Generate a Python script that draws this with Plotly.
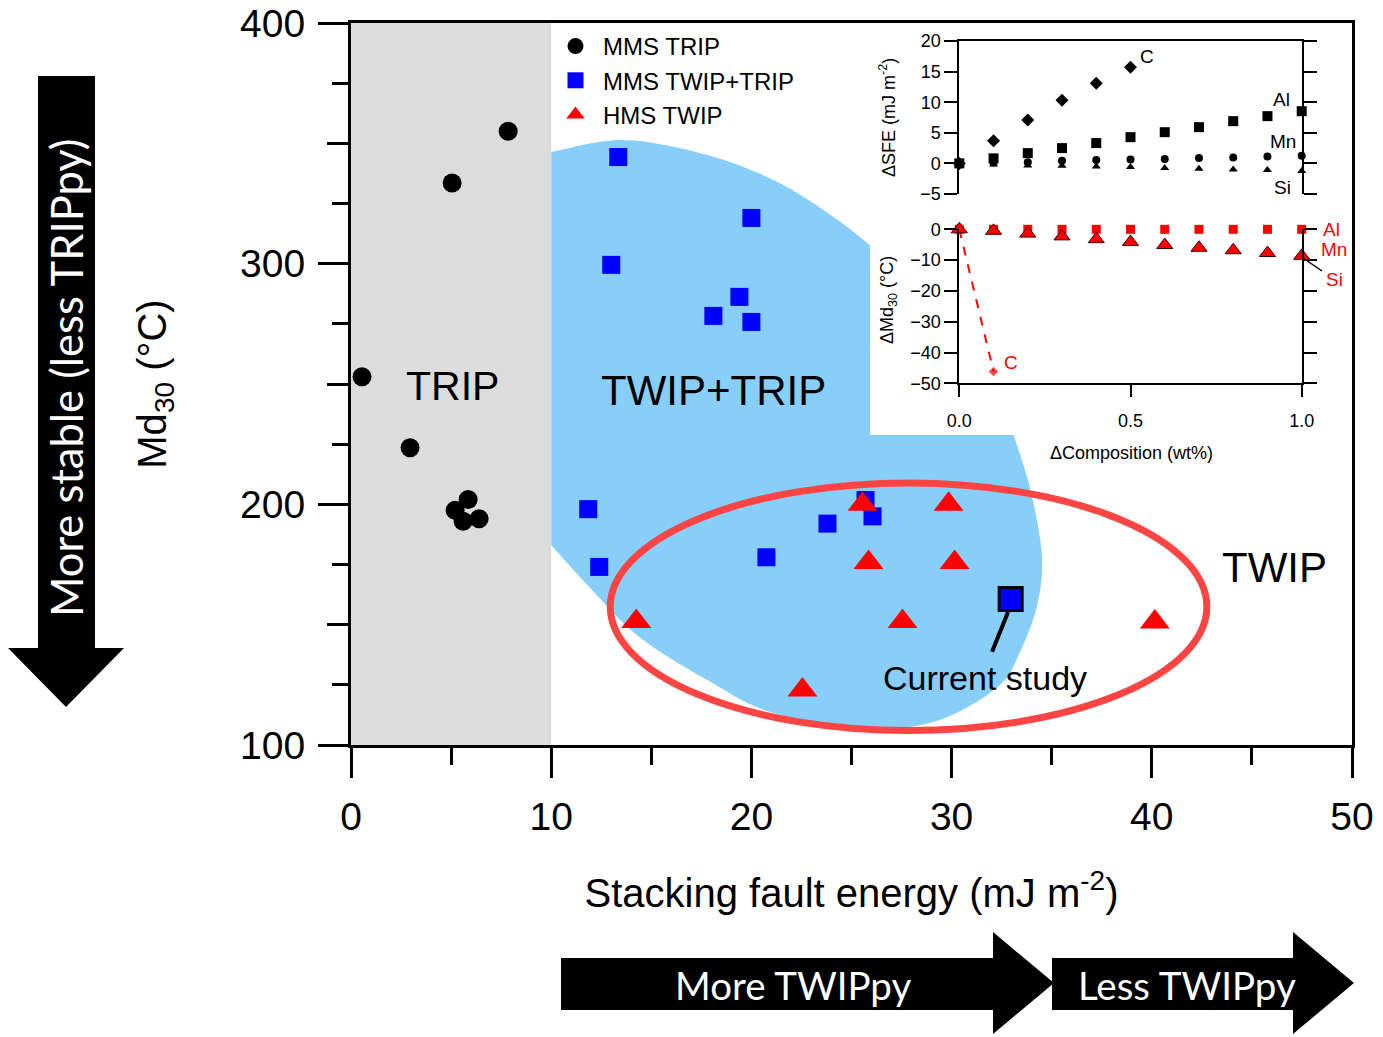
import plotly.graph_objects as go

# ---------------- main chart data ----------------
mms_trip_sfe = [0.55, 5.05, 7.85, 2.95, 5.85, 5.2, 5.6, 6.4]
mms_trip_md30 = [253.0, 333.5, 355.0, 223.5, 202.0, 197.5, 193.0, 194.0]

mms_twip_trip_sfe = [13.35, 20.0, 13.0, 19.4, 18.1, 20.0, 11.85, 12.4, 25.7, 26.05, 23.8, 20.75]
mms_twip_trip_md30 = [344.3, 319.0, 299.5, 286.2, 278.3, 275.8, 198.0, 174.0, 201.8, 195.0, 192.0, 178.0]

hms_twip_sfe = [25.55, 29.85, 25.85, 30.15, 14.25, 27.55, 40.15, 22.55]
hms_twip_md30 = [200.0, 200.0, 175.8, 175.8, 151.3, 151.3, 151.1, 122.9]

current_sfe = [32.95]
current_md30 = [160.7]

legend_names = ["MMS TRIP", "MMS TWIP+TRIP", "HMS TWIP"]

# ---------------- inset data ----------------
comp = [0.0, 0.1, 0.2, 0.3, 0.4, 0.5, 0.6, 0.7, 0.8, 0.9, 1.0]
comp_c = [0.0, 0.1, 0.2, 0.3, 0.4, 0.5]
dsfe_c = [0.0, 3.7, 7.1, 10.3, 13.1, 15.7]
dsfe_al = [0.0, 0.82, 1.68, 2.5, 3.32, 4.29, 5.1, 5.92, 6.9, 7.72, 8.53]
dsfe_mn = [0.0, 0.15, 0.2, 0.43, 0.54, 0.65, 0.7, 0.87, 0.98, 1.14, 1.25]
dsfe_si = [0.0, -0.2, -0.33, -0.38, -0.49, -0.6, -0.76, -0.87, -0.98, -1.09, -1.25]

dmd_al = [0.0, 0.0, 0.0, 0.0, 0.0, 0.0, 0.0, 0.0, 0.0, 0.0, 0.0]
dmd_mn = [0.0, -0.5, -1.4, -2.3, -3.2, -4.1, -5.1, -6.0, -6.8, -7.7, -8.6]
dmd_si = [0.0, -0.4, -1.3, -2.4, -3.3, -4.2, -5.2, -6.1, -6.9, -7.9, -8.8]
comp_c_md = [0.0, 0.1]
dmd_c = [0.0, -46.2]

# outline of the TWIP+TRIP region (SFE, Md30)
twip_trip_region = [
    (10.0, 346.4), (13.6, 351.4), (17.8, 345.2), (21.1, 334.8), (23.6, 322.3),
    (25.9, 307.8), (28.9, 284.9), (31.4, 255.8), (32.7, 239.2), (33.1, 228.8),
    (33.9, 207.2), (34.5, 179.8), (34.3, 159.0), (33.4, 138.3), (32.3, 124.1),
    (29.4, 110.4), (26.1, 107.1), (21.1, 113.3), (17.8, 127.0), (14.4, 144.9),
    (11.9, 165.7), (10.0, 183.1),
]

# ---------------- layout helpers ----------------
L, R, T, B = 351, 31, 23, 292
W, H = 1383, 1037
PW, PH = W - L - R, H - T - B


def px(x):
    return (x - L) / PW


def py(y):
    return (T + PH - y) / PH


ARIAL = "Liberation Sans, Arial, sans-serif"
CAL = "Lato, Carlito, Calibri, sans-serif"


def smooth_path(pts):
    n = len(pts)
    d = "M %.3f,%.3f" % pts[0]
    for i in range(n - 1):
        p0 = pts[i - 1] if i > 0 else pts[i]
        p1 = pts[i]
        p2 = pts[i + 1]
        p3 = pts[i + 2] if i + 2 < n else pts[i + 1]
        c1 = (p1[0] + (p2[0] - p0[0]) / 6, p1[1] + (p2[1] - p0[1]) / 6)
        c2 = (p2[0] - (p3[0] - p1[0]) / 6, p2[1] - (p3[1] - p1[1]) / 6)
        d += " C %.3f,%.3f %.3f,%.3f %.3f,%.3f" % (c1 + c2 + p2)
    d += " Z"
    return d


fig = go.Figure()

# main traces
fig.add_trace(go.Scatter(x=mms_trip_sfe, y=mms_trip_md30, mode="markers", name=legend_names[0],
                         marker=dict(symbol="circle", size=19, color="black")))
fig.add_trace(go.Scatter(x=mms_twip_trip_sfe, y=mms_twip_trip_md30, mode="markers", name=legend_names[1],
                         marker=dict(symbol="square", size=18, color="#0000ff")))
fig.add_trace(go.Scatter(x=hms_twip_sfe, y=hms_twip_md30, mode="markers", name=legend_names[2],
                         marker=dict(symbol="triangle-up", size=26, color="#ff0000")))
fig.add_trace(go.Scatter(x=current_sfe, y=current_md30, mode="markers", showlegend=False,
                         marker=dict(symbol="square", size=23, color="#0000ff",
                                     line=dict(color="black", width=3))))
# empty trace for the secondary tick axis
fig.add_trace(go.Scatter(x=[], y=[], xaxis="x", yaxis="y5", showlegend=False, hoverinfo="skip"))

# inset white backdrop (x2/y2 subplot)
fig.add_trace(go.Scatter(x=[0, 1, 1, 0, 0], y=[0, 0, 1, 1, 0], xaxis="x2", yaxis="y2",
                         mode="lines", fill="toself", fillcolor="white",
                         line=dict(color="white", width=0), showlegend=False, hoverinfo="skip"))

# inset top panel
fig.add_trace(go.Scatter(x=comp, y=dsfe_si, xaxis="x3", yaxis="y3", mode="markers", showlegend=False,
                         cliponaxis=False, marker=dict(symbol="triangle-up", size=8, color="black")))
fig.add_trace(go.Scatter(x=comp, y=dsfe_mn, xaxis="x3", yaxis="y3", mode="markers", showlegend=False,
                         cliponaxis=False, marker=dict(symbol="circle", size=8, color="black")))
fig.add_trace(go.Scatter(x=comp, y=dsfe_al, xaxis="x3", yaxis="y3", mode="markers", showlegend=False,
                         cliponaxis=False, marker=dict(symbol="square", size=10, color="black")))
fig.add_trace(go.Scatter(x=comp_c, y=dsfe_c, xaxis="x3", yaxis="y3", mode="markers", showlegend=False,
                         cliponaxis=False, marker=dict(symbol="diamond", size=10, color="black")))

# inset bottom panel
fig.add_trace(go.Scatter(x=comp_c_md, y=dmd_c, xaxis="x4", yaxis="y4", mode="lines+markers", showlegend=False,
                         cliponaxis=False, line=dict(color="#ff0000", width=2, dash="dash"),
                         marker=dict(symbol="diamond", size=[0, 8], color="#ff0000")))
fig.add_trace(go.Scatter(x=comp, y=dmd_al, xaxis="x4", yaxis="y4", mode="markers", showlegend=False,
                         cliponaxis=False, marker=dict(symbol="square", size=9, color="#ff0000")))
fig.add_trace(go.Scatter(x=comp, y=dmd_mn, xaxis="x4", yaxis="y4", mode="markers", showlegend=False,
                         cliponaxis=False, marker=dict(symbol="triangle-up", size=14, color="#ff0000",
                                                       line=dict(color="#400000", width=1))))
fig.add_trace(go.Scatter(x=comp, y=dmd_si, xaxis="x4", yaxis="y4", mode="markers", showlegend=False,
                         cliponaxis=False, marker=dict(symbol="triangle-up", size=9, color="#ff0000")))

# ---------------- shapes ----------------
shapes = [
    dict(type="path", xref="x", yref="y", path=smooth_path(twip_trip_region),
         fillcolor="#87cefa", line=dict(width=0), layer="below"),
    dict(type="rect", xref="x", yref="y", x0=0, x1=10, y0=100, y1=400,
         fillcolor="#dcdcdc", line=dict(width=0), layer="below"),
    dict(type="circle", xref="x", yref="y", x0=12.95, x1=42.75, y0=106.0, y1=208.9,
         line=dict(color="#ff4444", width=7), layer="below"),
    dict(type="line", xref="x", yref="y", x0=32.82, y0=155.3, x1=32.02, y1=138.7,
         line=dict(color="black", width=4), layer="above"),
    # Si leader in inset
    dict(type="line", xref="paper", yref="paper", x0=px(1303), y0=py(258), x1=px(1322), y1=py(271),
         line=dict(color="black", width=1.5), layer="above"),
]


def arrow_path(pts):
    return "M " + " L ".join("%.5f,%.5f" % (px(a), py(b)) for a, b in pts) + " Z"


shapes.append(dict(type="path", xref="paper", yref="paper", layer="above",
                   path=arrow_path([(38, 76), (95, 76), (95, 648), (124, 648), (66, 707), (8, 648), (38, 648)]),
                   fillcolor="black", line=dict(width=0)))
shapes.append(dict(type="path", xref="paper", yref="paper", layer="above",
                   path=arrow_path([(561, 958), (993, 958), (993, 932), (1054, 983), (993, 1034), (993, 1010), (561, 1010)]),
                   fillcolor="black", line=dict(width=0)))
shapes.append(dict(type="path", xref="paper", yref="paper", layer="above",
                   path=arrow_path([(1052, 958), (1293, 958), (1293, 932), (1354, 983), (1293, 1034), (1293, 1010), (1052, 1010)]),
                   fillcolor="black", line=dict(width=0)))

# ---------------- annotations ----------------
ann = []


def txt(text, x, y, size, color="black", xref="x", yref="y", font=ARIAL, angle=0, xanchor="center"):
    ann.append(dict(text=text, x=x, y=y, xref=xref, yref=yref, showarrow=False, textangle=angle,
                    xanchor=xanchor, yanchor="middle", font=dict(family=font, size=size, color=color)))


txt("TRIP", 5.05, 249.2, 41)
txt("TWIP+TRIP", 18.1, 247.5, 42)
txt("TWIP", 46.15, 173.6, 42)
txt("Current study", 31.67, 127.9, 34)

# inset labels
txt("C", 0.548, 17.4, 19, xref="x3", yref="y3")
txt("Al", 0.94, 10.5, 19, xref="x3", yref="y3")
txt("Mn", 0.945, 3.5, 19, xref="x3", yref="y3")
txt("Si", 0.945, -3.9, 19, xref="x3", yref="y3")
txt("Al", px(1331), py(229), 19, color="#ff0000", xref="paper", yref="paper")
txt("Mn", px(1334), py(249), 19, color="#ff0000", xref="paper", yref="paper")
txt("Si", px(1334), py(279), 19, color="#ff0000", xref="paper", yref="paper")
txt("C", 0.151, -43.4, 19, color="#ff0000", xref="x4", yref="y4")
txt("\u0394SFE (mJ m<sup>-2</sup>)", px(888), py(118), 18, xref="paper", yref="paper", angle=-90)
txt("\u0394Md<sub>30</sub> (\u00b0C)", px(888), py(300), 18, xref="paper", yref="paper", angle=-90)
txt("\u0394Composition (wt%)", px(1131), py(453), 18, xref="paper", yref="paper")

# arrow texts
txt("More stable (less TRIPpy)", px(66), py(378), 43.5, color="white", xref="paper", yref="paper",
    font=CAL, angle=-90)
txt("More TWIPpy", px(793), py(985), 38.5, color="white", xref="paper", yref="paper", font=CAL)
txt("Less TWIPpy", px(1187), py(985), 38.5, color="white", xref="paper", yref="paper", font=CAL)

# ---------------- axes ----------------
inset_x = [px(959.3), px(1301.7)]
box_x = [px(870), px(1350)]
box_y = [py(435), py(25)]

tick_common = dict(showgrid=False, zeroline=False, automargin=False)

fig.update_layout(
    width=W, height=H,
    margin=dict(l=L, r=R, t=T, b=B, pad=0, autoexpand=False),
    paper_bgcolor="white", plot_bgcolor="white",
    font=dict(family=ARIAL, color="black"),
    shapes=shapes, annotations=ann,
    showlegend=True,
    legend=dict(x=px(548), y=py(24), xanchor="left", yanchor="top", bgcolor="rgba(0,0,0,0)",
                font=dict(family=ARIAL, size=24), tracegroupgap=0, itemwidth=45),
    xaxis=dict(range=[0, 50], domain=[0, 1], tickvals=[0, 10, 20, 30, 40, 50],
               ticks="outside", ticklen=30, tickwidth=3, tickcolor="black",
               minor=dict(dtick=5, tick0=0, ticks="outside", ticklen=17, tickwidth=3, tickcolor="black"),
               showline=True, linewidth=3, linecolor="black", mirror=True,
               tickfont=dict(size=39), ticklabelstandoff=5,
               title=dict(text="Stacking fault energy (mJ m<sup>-2</sup>)", font=dict(size=40), standoff=43),
               **tick_common),
    yaxis=dict(range=[100, 400], domain=[0, 1], tickvals=[100, 200, 300, 400],
               ticks="outside", ticklen=30, tickwidth=3, tickcolor="black",
               minor=dict(dtick=25, tick0=0, ticks="outside", ticklen=16, tickwidth=3, tickcolor="black"),
               showline=True, linewidth=3, linecolor="black", mirror=True,
               tickfont=dict(size=39), ticklabelstandoff=5,
               title=dict(text="Md<sub>30</sub> (\u00b0C)", font=dict(size=40), standoff=62),
               **tick_common),
    yaxis5=dict(range=[100, 400], overlaying="y", anchor="x", side="left", tickvals=[150, 250, 350],
                ticks="outside", ticklen=23, tickwidth=3, tickcolor="black", showticklabels=False,
                showline=False, **tick_common),
    xaxis2=dict(domain=box_x, range=[0, 1], anchor="y2", visible=False, fixedrange=True),
    yaxis2=dict(domain=box_y, range=[0, 1], anchor="x2", visible=False, fixedrange=True),
    xaxis3=dict(domain=inset_x, range=[0, 1], anchor="y3", side="top", showline=True, linewidth=2,
                linecolor="black", ticks="", showticklabels=False, **tick_common),
    yaxis3=dict(domain=[py(194), py(41)], range=[-5, 20], anchor="x3", tickvals=[-5, 0, 5, 10, 15, 20],
                showline=True, linewidth=2, linecolor="black", mirror="ticks", ticks="outside",
                ticklen=13, tickwidth=2, tickcolor="black", tickfont=dict(size=18), **tick_common),
    xaxis4=dict(domain=inset_x, range=[0, 1], anchor="y4", tickvals=[0, 0.5, 1.0],
                ticktext=["0.0", "0.5", "1.0"], showline=True, linewidth=2, linecolor="black",
                ticks="outside", ticklen=12, tickwidth=2, tickcolor="black", tickfont=dict(size=18),
                ticklabelstandoff=8, **tick_common),
    yaxis4=dict(domain=[py(383.3), py(229.3)], range=[-50, 0], anchor="x4",
                tickvals=[-50, -40, -30, -20, -10, 0],
                showline=True, linewidth=2, linecolor="black", mirror="ticks", ticks="outside",
                ticklen=13, tickwidth=2, tickcolor="black", tickfont=dict(size=18), **tick_common),
)

fig.write_html("out.html")
